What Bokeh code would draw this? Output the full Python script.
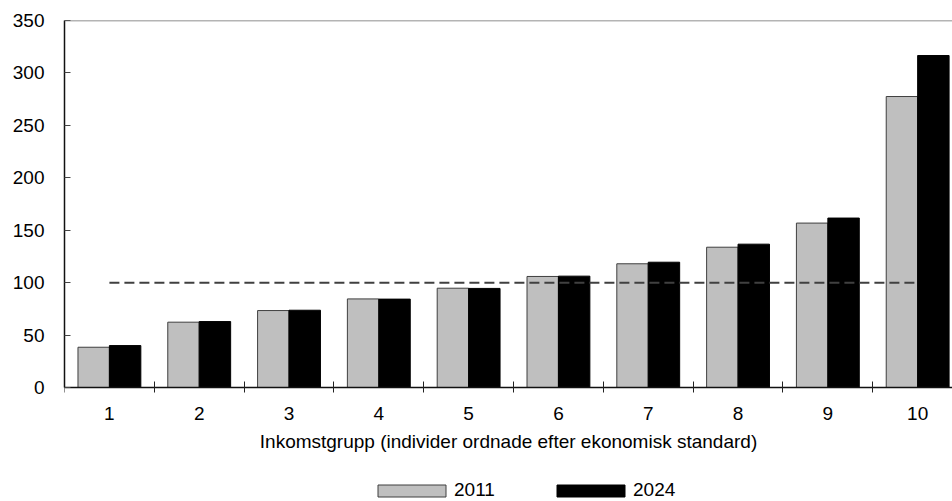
from bokeh.plotting import figure
from bokeh.models import Range1d, FixedTicker, Span, Legend, LegendItem
from bokeh.embed import file_html
from bokeh.resources import INLINE

groups = [1, 2, 3, 4, 5, 6, 7, 8, 9, 10]
tick_labels = ["1", "2", "3", "4", "5", "6", "7", "8", "9", "10"]
values_2011 = [38.4, 62.3, 73.4, 84.5, 94.7, 105.9, 118.0, 133.8, 156.8, 277.5]
values_2024 = [40.0, 62.9, 73.7, 84.3, 94.5, 106.2, 119.5, 136.7, 161.6, 316.6]
reference_level = 100
y_ticks = [0, 50, 100, 150, 200, 250, 300, 350]
x_title = "Inkomstgrupp (individer ordnade efter ekonomisk standard)"

FONT = "Liberation Sans"
FS = "19px"

# frame extends below zero so that the x axis, its title and the legend sit inside it
p = figure(width=952, height=501, output_backend="svg", toolbar_location=None,
           x_range=Range1d(0.5, 10.388), y_range=Range1d(-108.7, 350),
           min_border_left=64, min_border_top=20, min_border_right=0,
           min_border_bottom=0)
p.outline_line_color = None
p.grid.grid_line_color = None
p.background_fill_color = "white"

w = 0.35
r1 = p.vbar(x=[g - w / 2 for g in groups], top=values_2011, width=w, bottom=0,
            fill_color="#BFBFBF", line_color="#3f3f3f", line_width=1)
r2 = p.vbar(x=[g + w / 2 for g in groups], top=values_2024, width=w, bottom=0,
            fill_color="#000000", line_color="#000000", line_width=1)

p.line(x=[groups[0], groups[-1]], y=[reference_level, reference_level],
       line_color="#404040", line_width=2, line_dash="10 5")

p.add_layout(Span(location=y_ticks[-1], dimension="width", line_color="#6a6a6a", line_width=1.5))

# x axis, pinned at y = 0
xa = p.xaxis[0]
xa.fixed_location = 0
xa.ticker = FixedTicker(ticks=groups, minor_ticks=[g - 0.5 for g in groups] + [groups[-1] + 0.5])
xa.major_label_overrides = {g: t for g, t in zip(groups, tick_labels)}
xa.major_tick_in = 0
xa.major_tick_out = 0
xa.minor_tick_in = 6
xa.minor_tick_out = 5
xa.minor_tick_line_color = "#222222"
xa.axis_line_color = "#111111"
xa.axis_line_width = 1.5
xa.major_label_standoff = 14
xa.major_label_text_font = FONT
xa.major_label_text_font_size = FS
xa.major_label_text_color = "#000000"
xa.axis_label = x_title
xa.axis_label_text_font = FONT
xa.axis_label_text_font_size = FS
xa.axis_label_text_font_style = "normal"
xa.axis_label_text_color = "#000000"
xa.axis_label_standoff = 8

# y axis
ya = p.yaxis[0]
ya.bounds = (y_ticks[0], y_ticks[-1])
ya.ticker = FixedTicker(ticks=y_ticks)
ya.major_tick_in = 6
ya.major_tick_out = 0
ya.minor_tick_in = 0
ya.minor_tick_out = 0
ya.major_tick_line_color = "#444444"
ya.axis_line_color = "#111111"
ya.axis_line_width = 1.5
ya.major_label_standoff = 20
ya.major_label_text_font = FONT
ya.major_label_text_font_size = FS
ya.major_label_text_color = "#000000"

legend = Legend(items=[LegendItem(label="2011", renderers=[r1]),
                       LegendItem(label="2024", renderers=[r2])],
                orientation="horizontal", location=(305, 0),
                glyph_width=85, glyph_height=15, label_standoff=0,
                label_width=91, label_text_font=FONT, label_text_font_size=FS,
                label_text_color="#000000", spacing=3, padding=0,
                margin=0, border_line_color=None, background_fill_alpha=0)
p.add_layout(legend, "center")

open("out.html", "w").write(file_html(p, INLINE))
